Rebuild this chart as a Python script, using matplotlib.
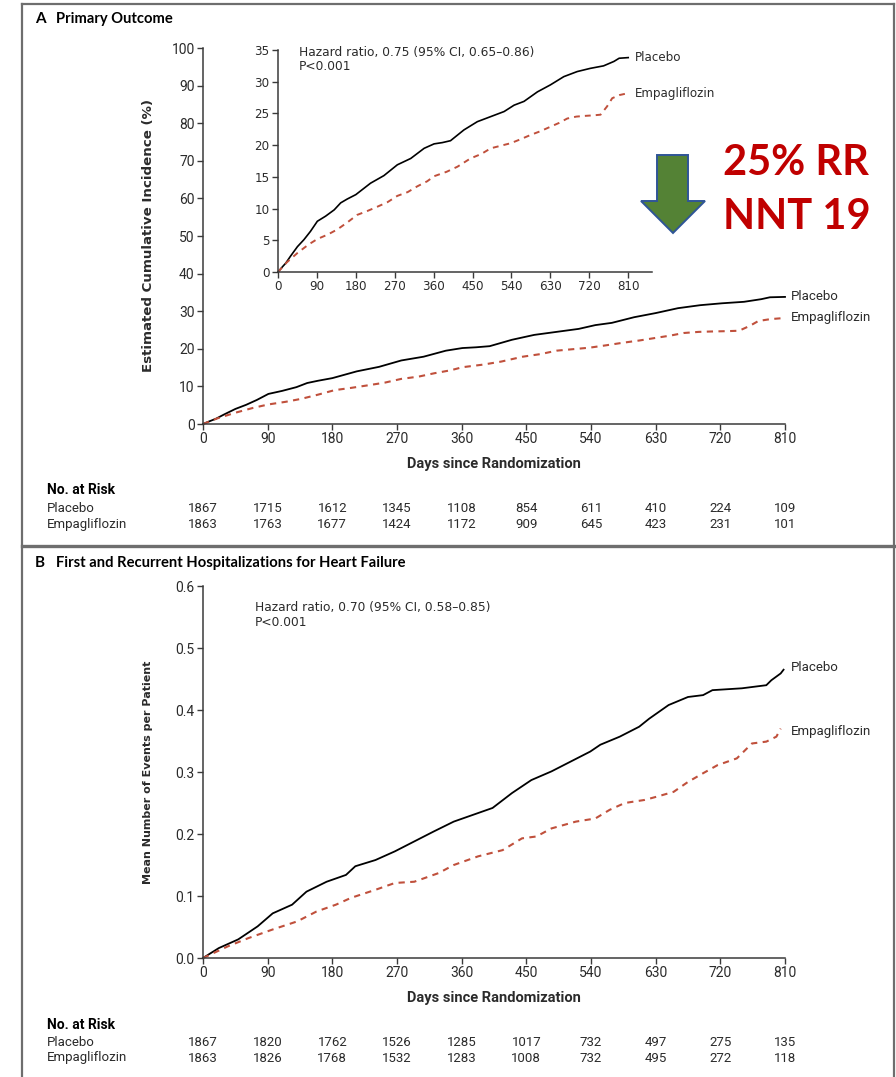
import matplotlib
matplotlib.use("Agg")
import matplotlib.pyplot as plt
from matplotlib.patches import Polygon
from matplotlib.lines import Line2D
from matplotlib.transforms import blended_transform_factory

W, H = 896, 1077

# Panel A: primary outcome, cumulative incidence (%)
days_a_pbo = [0, 10, 18, 29, 45, 60, 75, 91, 110, 130, 145, 160, 180, 214, 245, 276, 307,
              338, 361, 380, 399, 430, 461, 492, 523, 546, 569, 600, 630, 661, 692, 722,
              753, 777, 789, 810]
inc_a_pbo = [0, 0.8, 1.4, 2.5, 4.0, 5.1, 6.4, 8.0, 8.8, 9.8, 10.9, 11.5, 12.2, 14.0, 15.2,
             16.9, 17.9, 19.5, 20.2, 20.4, 20.7, 22.4, 23.7, 24.5, 25.3, 26.3, 26.9, 28.4,
             29.5, 30.8, 31.6, 32.1, 32.5, 33.2, 33.7, 33.8]
days_a_emp = [0, 20, 45, 70, 91, 115, 137, 160, 183, 206, 230, 253, 276, 300, 322, 345, 361,
              390, 415, 445, 470, 492, 515, 538, 560, 584, 607, 630, 650, 669, 690, 707, 730,
              746, 761, 773, 790, 810]
inc_a_emp = [0, 1.5, 3.0, 4.3, 5.2, 5.9, 6.7, 7.8, 9.0, 9.6, 10.3, 11.0, 12.0, 12.6, 13.5,
             14.3, 15.1, 15.8, 16.6, 17.9, 18.6, 19.5, 19.9, 20.3, 20.9, 21.6, 22.2, 22.9,
             23.5, 24.2, 24.5, 24.6, 24.7, 24.8, 26.1, 27.4, 27.9, 28.2]

# Panel B: first and recurrent HF hospitalizations, mean events per patient
days_b_pbo = [0, 22, 49, 76, 97, 124, 144, 172, 199, 212, 240, 267, 294, 321, 349, 376, 403,
              430, 457, 485, 512, 539, 553, 580, 607, 621, 648, 675, 696, 709, 750, 784, 791,
              804, 808]
mean_b_pbo = [0, 0.016, 0.030, 0.051, 0.072, 0.086, 0.107, 0.123, 0.134, 0.148, 0.158, 0.172,
              0.188, 0.204, 0.220, 0.231, 0.242, 0.266, 0.287, 0.301, 0.317, 0.333, 0.344,
              0.357, 0.373, 0.386, 0.408, 0.421, 0.424, 0.432, 0.435, 0.440, 0.448, 0.459,
              0.465]
days_b_emp = [0, 35, 63, 97, 131, 158, 185, 206, 240, 267, 294, 328, 349, 383, 417, 444, 464,
              485, 519, 546, 566, 587, 615, 634, 655, 675, 696, 716, 743, 764, 784, 798, 804]
mean_b_emp = [0, 0.019, 0.032, 0.046, 0.059, 0.075, 0.086, 0.097, 0.110, 0.121, 0.123, 0.137,
              0.150, 0.164, 0.174, 0.193, 0.196, 0.209, 0.220, 0.225, 0.239, 0.250, 0.255,
              0.261, 0.268, 0.284, 0.298, 0.311, 0.322, 0.346, 0.349, 0.357, 0.370]

risk_days = [0, 90, 180, 270, 360, 450, 540, 630, 720, 810]
risk_a_pbo = [1867, 1715, 1612, 1345, 1108, 854, 611, 410, 224, 109]
risk_a_emp = [1863, 1763, 1677, 1424, 1172, 909, 645, 423, 231, 101]
risk_b_pbo = [1867, 1820, 1762, 1526, 1285, 1017, 732, 497, 275, 135]
risk_b_emp = [1863, 1826, 1768, 1532, 1283, 1008, 732, 495, 272, 118]

NARROW = ["Liberation Sans Narrow", "Roboto", "DejaVu Sans"]
WIDE = ["DejaVu Sans"]
HEAD = ["Lato", "DejaVu Sans"]
INK = "#2b2b2b"
AXC = "#3a3a3a"
RED = "#c0503c"


def fx(px):
    return px / W


def fy(py):
    return 1 - py / H


def box(left, top, right, bottom):
    return [fx(left), fy(bottom), fx(right) - fx(left), fy(top) - fy(bottom)]


def style_axes(ax, xmax, ymax, yticks, fam, size, ylabels=None):
    ax.set_xlim(0, xmax)
    ax.set_ylim(0, ymax)
    for s in ("top", "right"):
        ax.spines[s].set_visible(False)
    for s in ("left", "bottom"):
        ax.spines[s].set_color(AXC)
        ax.spines[s].set_linewidth(1.1)
    ax.set_xticks(risk_days)
    ax.set_yticks(yticks)
    if ylabels is not None:
        ax.set_yticklabels(ylabels)
    ax.tick_params(direction="out", length=4, width=1.0, color=AXC, labelcolor=INK, pad=2)
    for lab in ax.get_xticklabels() + ax.get_yticklabels():
        lab.set_family(fam)
        lab.set_fontsize(size)
    ax.patch.set_alpha(0)


def curves(ax, dp, yp, de, ye, lw=1.3):
    ax.plot(dp, yp, color="black", lw=lw, solid_joinstyle="miter", clip_on=False)
    ax.plot(de, ye, color=RED, lw=lw + 0.2, dashes=(3, 2.6), clip_on=False)


def risk_table(ax, y_head, y_pbo, y_emp, pbo, emp):
    fig.text(fx(47), fy(y_head), "No. at Risk", family=NARROW, weight="bold",
             fontsize=10, color="black", va="center")
    fig.text(fx(47), fy(y_pbo), "Placebo", family=NARROW, fontsize=9.5, color=INK, va="center")
    fig.text(fx(47), fy(y_emp), "Empagliflozin", family=NARROW, fontsize=9.5, color=INK,
             va="center")
    tr = blended_transform_factory(ax.transData, fig.transFigure)
    for d, p, e in zip(risk_days, pbo, emp):
        ax.text(d, fy(y_pbo), str(p), transform=tr, ha="center", va="center",
                family=NARROW, fontsize=9.5, color=INK)
        ax.text(d, fy(y_emp), str(e), transform=tr, ha="center", va="center",
                family=NARROW, fontsize=9.5, color=INK)


fig = plt.figure(figsize=(W / 100, H / 100), dpi=100)

# panel frames
frame = dict(color="#6e6e6e", lw=1.6, transform=fig.transFigure)
fig.add_artist(Line2D([fx(22), fx(22)], [fy(4), 0], **frame))
fig.add_artist(Line2D([fx(22), fx(894)], [fy(4), fy(4)], **frame))
fig.add_artist(Line2D([fx(894), fx(894)], [fy(4), 0], **frame))
fig.add_artist(Line2D([fx(22), fx(894)], [fy(546), fy(546)], color="#6e6e6e", lw=2.4,
                      transform=fig.transFigure))

fig.text(fx(35), fy(19), "A", family=HEAD, weight="bold", fontsize=11, va="center")
fig.text(fx(56), fy(19), "Primary Outcome", family=HEAD, weight="bold", fontsize=10.6,
         va="center")
fig.text(fx(35), fy(563), "B", family=HEAD, weight="bold", fontsize=11, va="center")
fig.text(fx(56), fy(563), "First and Recurrent Hospitalizations for Heart Failure",
         family=HEAD, weight="bold", fontsize=10.6, va="center")

# ---- panel A main axes
axA = fig.add_axes(box(203, 48, 785, 424))
style_axes(axA, 810, 100, range(0, 101, 10), NARROW, 10)
curves(axA, days_a_pbo, inc_a_pbo, days_a_emp, inc_a_emp)
axA.text(818, inc_a_pbo[-1], "Placebo", family=NARROW, fontsize=9.5, color=INK, va="center")
axA.text(818, inc_a_emp[-1], "Empagliflozin", family=NARROW, fontsize=9.5, color=INK,
         va="center")
axA.set_xlabel("Days since Randomization", family=NARROW, weight="bold", fontsize=10.5,
               color=INK, labelpad=8)
fig.text(fx(148), fy(236), "Estimated Cumulative Incidence (%)", family=WIDE,
         weight="bold", fontsize=9.6, rotation=90, ha="center", va="center", color=INK)
risk_table(axA, 490, 508, 524, risk_a_pbo, risk_a_emp)

# ---- panel A inset (zoomed y axis)
axI = fig.add_axes(box(278, 50, 652, 272))
style_axes(axI, 865, 35, range(0, 36, 5), WIDE, 8.6)
axI.patch.set_facecolor("white")
axI.patch.set_alpha(1)
curves(axI, days_a_pbo, inc_a_pbo, days_a_emp, inc_a_emp, lw=1.2)
axI.text(48, 35.6, "Hazard ratio, 0.75 (95% CI, 0.65\u20130.86)\nP<0.001", family=WIDE,
         fontsize=8.8, color=INK, va="top", linespacing=1.1)
axI.text(825, inc_a_pbo[-1], "Placebo", family=WIDE, fontsize=8.6, color=INK, va="center")
axI.text(825, inc_a_emp[-1], "Empagliflozin", family=WIDE, fontsize=8.6, color=INK,
         va="center")

# ---- effect-size callout
arrow = [(657, 155), (688, 155), (688, 201), (705, 201), (673, 233), (641, 201), (657, 201)]
fig.add_artist(Polygon([(fx(x), fy(y)) for x, y in arrow], closed=True,
                       facecolor="#548235", edgecolor="#2f5597", lw=1.4,
                       transform=fig.transFigure))
fig.text(fx(723), fy(175), "25% RR", family=HEAD, weight="bold", fontsize=30,
         color="#c00000", va="baseline")
fig.text(fx(723), fy(229), "NNT 19", family=HEAD, weight="bold", fontsize=30,
         color="#c00000", va="baseline")

# ---- panel B
axB = fig.add_axes(box(203, 586, 785, 958))
style_axes(axB, 810, 0.6, [0, 0.1, 0.2, 0.3, 0.4, 0.5, 0.6], NARROW, 10,
           ["0.0", "0.1", "0.2", "0.3", "0.4", "0.5", "0.6"])
curves(axB, days_b_pbo, mean_b_pbo, days_b_emp, mean_b_emp)
axB.text(818, 0.468, "Placebo", family=NARROW, fontsize=9.5, color=INK, va="center")
axB.text(818, 0.366, "Empagliflozin", family=NARROW, fontsize=9.5, color=INK, va="center")
axB.text(72, 0.575, "Hazard ratio, 0.70 (95% CI, 0.58\u20130.85)\nP<0.001", family=WIDE,
         fontsize=8.8, color=INK, va="top", linespacing=1.1)
axB.set_xlabel("Days since Randomization", family=NARROW, weight="bold", fontsize=10.5,
               color=INK, labelpad=8)
fig.text(fx(148), fy(772), "Mean Number of Events per Patient", family=WIDE,
         weight="bold", fontsize=8.0, rotation=90, ha="center", va="center", color=INK)
risk_table(axB, 1025, 1042, 1058, risk_b_pbo, risk_b_emp)

fig.savefig("out.png", dpi=100, facecolor="white")
